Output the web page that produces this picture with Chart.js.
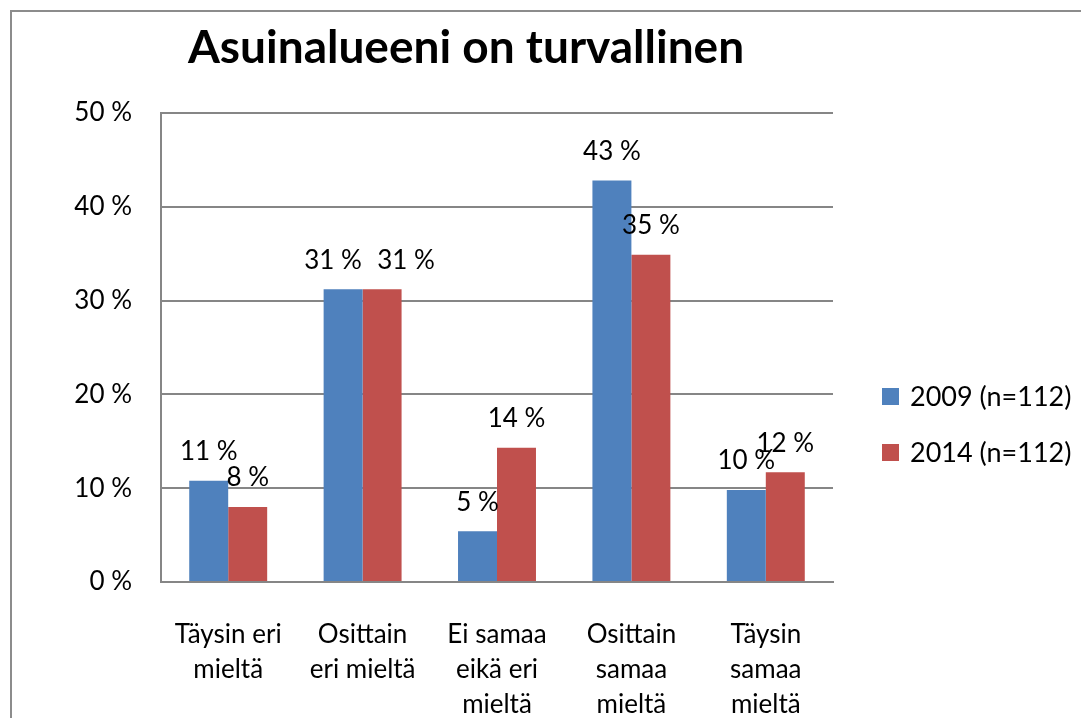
<!DOCTYPE html>
<html>
<head>
<meta charset="utf-8">
<script src="https://cdn.jsdelivr.net/npm/chart.js@4"></script>
<style>
  html, body { margin: 0; padding: 0; background: #fff; overflow: hidden; }
  #frame { position: absolute; left: 10px; top: 10px; width: 1200px; height: 800px; border: 2px solid #8c8c8c; }
  #wrap { position: absolute; left: 0; top: 0; width: 1081px; height: 718px; }
</style>
</head>
<body>
<div id="frame"></div>
<div id="wrap"><canvas id="chart"></canvas></div>

<script>
var title = 'Asuinalueeni on turvallinen'
var categories = [
    ['Täysin eri', 'mieltä'],
    ['Osittain', 'eri mieltä'],
    ['Ei samaa', 'eikä eri', 'mieltä'],
    ['Osittain', 'samaa', 'mieltä'],
    ['Täysin', 'samaa', 'mieltä']
]
var seriesNames = ['2009 (n=112)', '2014 (n=112)']
var values2009 = [10.8, 31.2, 5.4, 42.8, 9.8]
var values2014 = [8.0, 31.2, 14.3, 34.9, 11.7]
var yTicks = [0, 10, 20, 30, 40, 50]

var FONT = 'Lato, "Open Sans", sans-serif'
var colors = ['#4f81bd', '#c0504d']

// data labels, title and legend drawn by hand (Excel look)
var excelLook = {
    id: 'excelLook',
    afterDatasetsDraw(chart) {
        var ctx = chart.ctx
        // excel nudged the two 31 % labels apart
        var nudge = { '0-1': -10, '1-1': 24 }
        ctx.save()
        ctx.fillStyle = '#000'
        ctx.font = '26px ' + FONT
        ctx.textAlign = 'center'
        ctx.textBaseline = 'middle'
        chart.data.datasets.forEach(function (ds, i) {
            chart.getDatasetMeta(i).data.forEach(function (bar, j) {
                var dx = nudge[i + '-' + j] || 0
                ctx.fillText(Math.round(ds.data[j]) + ' %', bar.x + dx, bar.y - 29)
            })
        })

        ctx.font = 'bold 46px ' + FONT
        ctx.fillText(title, 466, 48)

        ctx.textAlign = 'left'
        ctx.font = '27px ' + FONT
        seriesNames.forEach(function (name, i) {
            var y = 396 + i * 56
            ctx.fillStyle = colors[i]
            ctx.fillRect(882, y - 8, 17, 17)
            ctx.fillStyle = '#000'
            ctx.fillText(name, 910, y + 1)
        })
        ctx.restore()
    }
}

var ctx = document.getElementById('chart').getContext('2d')
var chart = new Chart(ctx, {
    type: 'bar',
    data: {
        labels: categories,
        datasets: [
            { label: seriesNames[0], data: values2009, backgroundColor: colors[0] },
            { label: seriesNames[1], data: values2014, backgroundColor: colors[1] }
        ]
    },
    options: {
        responsive: true,
        maintainAspectRatio: false,
        animation: false,
        layout: { padding: { top: 113, right: 248, left: 0, bottom: 0 } },
        categoryPercentage: 0.58,
        barPercentage: 1.0,
        plugins: {
            legend: { display: false },
            title: { display: false },
            tooltip: { enabled: false }
        },
        scales: {
            x: {
                grid: { display: false, drawTicks: false },
                border: { color: '#868686', width: 2 },
                ticks: { color: '#000', font: { family: FONT, size: 26, lineHeight: 1.35 }, padding: 35, maxRotation: 0, autoSkip: false },
                afterFit: function (scale) { scale.height = 136 }
            },
            y: {
                min: 0,
                max: 50,
                afterBuildTicks: function (scale) { scale.ticks = yTicks.map(function (v) { return { value: v } }) },
                grid: { color: '#868686', lineWidth: 2, drawTicks: false },
                border: { color: '#868686', width: 2 },
                ticks: { color: '#000', font: { family: FONT, size: 26 }, padding: 29, callback: function (v) { return v + ' %' } },
                afterFit: function (scale) { scale.width = 161 }
            }
        }
    },
    plugins: [excelLook]
})
</script>
</body>
</html>
